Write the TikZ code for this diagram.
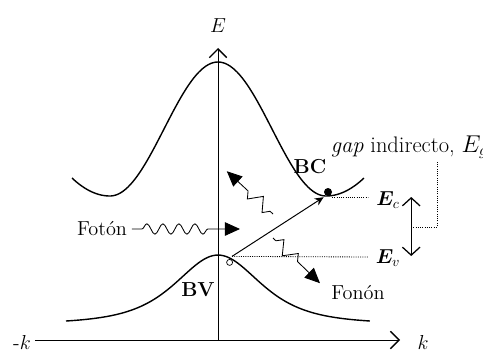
\documentclass[tikz,border=0pt]{standalone}
\usepackage{amsmath,amssymb,bm}
\usetikzlibrary{arrows.meta,calc,positioning,decorations.pathmorphing}

\begin{document}
\begin{tikzpicture}[>=Stealth,scale=1.0,font=\Large,
  band/.style={line width=1pt},
  axis/.style={line width=0.6pt,-{Straight Barb[length=2.2mm,width=4.4mm,line width=0.9pt]}},
  level/.style={densely dotted,line width=0.6pt},
  photon/.style={decorate,decoration={snake,amplitude=1.3mm,segment length=4mm,pre length=2.5mm,post length=7mm},line width=0.6pt,-{Triangle[length=3.8mm,width=3.4mm]}},
  phonon/.style={decorate,decoration={zigzag,amplitude=1.6mm,segment length=5mm,pre length=1mm,post length=6mm},line width=0.6pt,-{Triangle[length=3.8mm,width=3.4mm]}}]
  \useasboundingbox (-5.45,-0.3) rectangle (6.625,8.5);
  % axes
  \draw[axis] (-4.575,0) -- (4.55,0);
  \draw[axis] (0,0) -- (0,7.3);
  \node (kneg) at (-4.9,-0.05) {-$k$};
  \node (kpos) at (5.125,-0.05) {$k$};
  \node (Elab) at (0,7.85) {$E$};
  % bands
  \draw[band] plot[domain=-3.65:3.65,samples=121,smooth]
    (\x,{abs(\x)<2.7 ? 5.275+1.675*cos(180*\x/2.7) : 3.6+0.45*((abs(\x)-2.7)/0.95)^2});
  \draw[band] plot[domain=-3.8:3.8,samples=121,smooth]
    (\x,{0.40+1.724/(1+\x*\x/3.8025)^2});
  \node (BC) at (2.3,4.33) {\textbf{BC}};
  \node (BV) at (-0.5,1.25) {\textbf{BV}};
  % electron and hole
  \coordinate (elec) at (2.75,3.7);
  \coordinate (hole) at (0.29,1.94);
  \coordinate (vbtop) at (0.35,2.09);
  \coordinate (cbmin) at (2.64,3.57);
  \fill (elec) circle (0.1);
  \draw[line width=0.5pt] (hole) circle (0.075);
  \draw[line width=0.7pt,-{Stealth[length=2.2mm,width=2mm]}] (vbtop) -- (cbmin);
  % levels
  \node (Ec) at (4.25,3.5) {$\bm{E}_c$};
  \node (Ev) at (4.25,2.05) {$\bm{E}_v$};
  \draw[level] (2.85,3.575) -- (3.75,3.575);
  \draw[level] (vbtop) -- (3.75,2.075);
  % gap
  \coordinate (gaptop) at (4.83,3.575);
  \coordinate (gapbot) at (4.83,2.1);
  \coordinate (gapmid) at (4.83,2.825);
  \draw[line width=0.9pt,{Straight Barb[length=2mm,width=4.4mm]}-{Straight Barb[length=2mm,width=4.4mm]}] (gapbot) -- (gaptop);
  \node[anchor=west,font=\fontsize{16}{19}\selectfont] (gaplab) at (2.7,4.82) {\textit{gap} indirecto, $E_g$};
  \draw[level] (gapmid) -- (5.475,2.825) -- (5.475,4.45);
  % photon and phonons
  \node (foton) at (-2.9,2.775) {Fotón};
  \coordinate (fotontip) at (0.55,2.775);
  \draw[photon] (foton.east) -- (fotontip);
  \coordinate (ph1s) at (1.375,3.15);
  \coordinate (ph1e) at (0.22,4.22);
  \coordinate (ph2s) at (1.375,2.55);
  \coordinate (ph2e) at (2.55,1.42);
  \draw[phonon] (ph1s) -- (ph1e);
  \draw[phonon] (ph2s) -- (ph2e);
  \node (fonon) at (3.5,1.175) {Fonón};
\end{tikzpicture}
\end{document}
